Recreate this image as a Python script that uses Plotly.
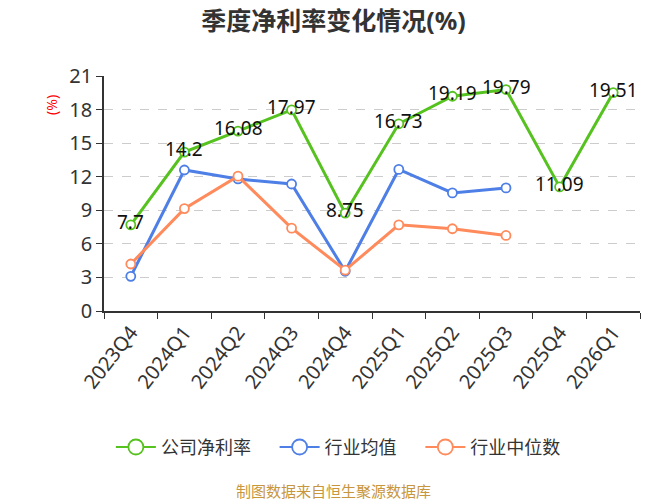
import plotly.graph_objects as go

categories = ["2023Q4", "2024Q1", "2024Q2", "2024Q3", "2024Q4",
              "2025Q1", "2025Q2", "2025Q3", "2025Q4", "2026Q1"]
company = [7.7, 14.2, 16.08, 17.97, 8.75, 16.73, 19.19, 19.79, 11.09, 19.51]
industry_avg = [3.1, 12.6, 11.8, 11.35, 3.55, 12.65, 10.55, 11.0, None, None]
industry_median = [4.2, 9.15, 12.05, 7.4, 3.65, 7.7, 7.35, 6.75, None, None]
company_labels = ["7.7", "14.2", "16.08", "17.97", "8.75", "16.73", "19.19", "19.79", "11.09", "19.51"]
series_names = ["公司净利率", "行业均值", "行业中位数"]

GREEN = "#56c21f"
BLUE = "#4e7fe6"
ORANGE = "#ff8a5b"
FONT = "Noto Sans, Noto Sans CJK SC"

fig = go.Figure()


def add_series(name, y, color):
    fig.add_trace(go.Scatter(
        x=categories, y=y, name=name, mode="lines+markers",
        line=dict(color=color, width=3),
        marker=dict(symbol="circle", size=9, color="white",
                    line=dict(color=color, width=1.8)),
        connectgaps=False, showlegend=False,
    ))
    # legend entry with the larger legend glyph
    fig.add_trace(go.Scatter(
        x=[None], y=[None], name=name + "\u00a0" * 4, mode="lines+markers",
        line=dict(color=color, width=2),
        marker=dict(symbol="circle", size=15, color="white",
                    line=dict(color=color, width=1.8)),
        showlegend=True, hoverinfo="skip",
    ))


add_series(series_names[0], company, GREEN)
add_series(series_names[1], industry_avg, BLUE)
add_series(series_names[2], industry_median, ORANGE)

for c, v, t in zip(categories, company, company_labels):
    fig.add_annotation(x=c, y=v, text=t, showarrow=False, yshift=3,
                       font=dict(family=FONT, size=19, color="#111"))

fig.add_annotation(xref="paper", yref="paper", x=-0.097, y=0.877, text="(%)",
                   textangle=-90, showarrow=False, xanchor="center", yanchor="middle",
                   font=dict(family=FONT, size=14, color="red"))
fig.add_annotation(xref="paper", yref="paper", x=0.429, y=-0.766, text="制图数据来自恒生聚源数据库",
                   showarrow=False, yanchor="middle", xanchor="center",
                   font=dict(family=FONT, size=15, color="#c8963c"))

fig.update_layout(
    width=667, height=500,
    margin=dict(l=104, r=27, t=76, b=189),
    paper_bgcolor="white", plot_bgcolor="white",
    font=dict(family=FONT, size=18, color="#333"),
    title=dict(text="<b>季度净利率变化情况(%)</b>", x=0.5, xanchor="center",
               y=0.958, yanchor="middle",
               font=dict(family=FONT, size=25, color="#333")),
    showlegend=True,
    legend=dict(orientation="h", x=0.455, xanchor="center", y=-0.58, yanchor="middle",
                font=dict(family=FONT, size=18, color="#333"),
                itemwidth=40, tracegroupgap=0, itemsizing="trace"),
    xaxis=dict(type="category", tickangle=-52, tickson="boundaries",
               ticks="outside", ticklen=6, tickcolor="#333",
               showline=True, linecolor="#333", linewidth=1.5,
               showgrid=False, tickfont=dict(family=FONT, size=20, color="#333"),
               range=[-0.5, 9.5]),
    yaxis=dict(range=[0, 21], tickvals=[0, 3, 6, 9, 12, 15, 18, 21],
               ticks="outside", ticklen=6, tickcolor="#333",
               showline=True, linecolor="#333", linewidth=1.5,
               showgrid=True, gridcolor="#cccccc", griddash="dash", gridwidth=1,
               zeroline=False, tickfont=dict(family=FONT, size=20, color="#333")),
)

fig.write_html("out.html")
